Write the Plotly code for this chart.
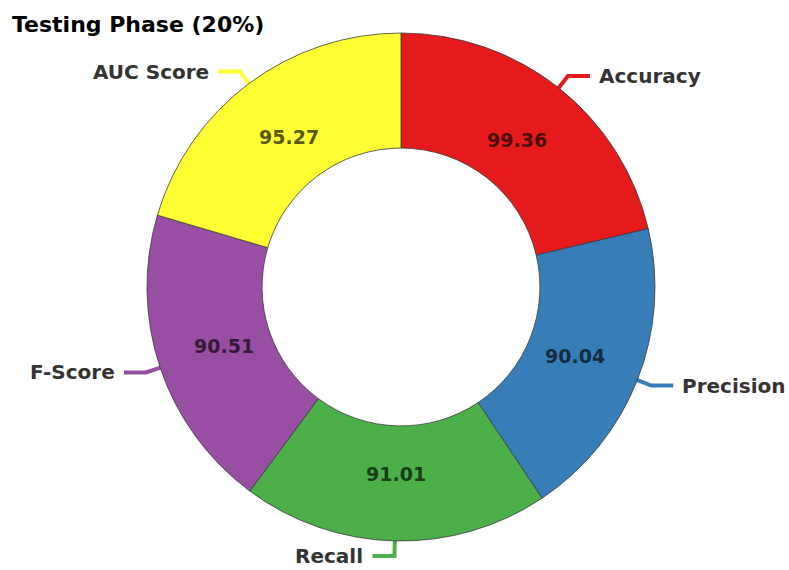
import math
import plotly.graph_objects as go

# Testing-phase metrics
metrics = ["Accuracy", "Precision", "Recall", "F-Score", "AUC Score"]
scores = [99.36, 90.04, 91.01, 90.51, 95.27]
colors = ["#E41A1C", "#377EB8", "#4DAF4A", "#984EA3", "#FFFF33"]
title_text = "Testing Phase (20%)"

W, H = 789, 570
FONT = "DejaVu Sans, Verdana, sans-serif"

# Donut geometry in pixels
cx, cy = 401, 287
r_out = 254
hole = 0.547
r_text = 187
len1, len2, gap = 15, 22, 7

fig = go.Figure()

fig.add_trace(go.Pie(
    labels=metrics,
    values=scores,
    sort=False,
    direction="clockwise",
    rotation=0,
    hole=hole,
    marker=dict(colors=colors, line=dict(color="#3a3a3a", width=0.8)),
    textinfo="none",
    hoverinfo="label+value",
    showlegend=False,
    domain=dict(
        x=[(cx - r_out) / W, (cx + r_out) / W],
        y=[(H - cy - r_out) / H, (H - cy + r_out) / H],
    ),
))

total = sum(scores)
cum = 0.0
annotations = []
for name, val, col in zip(metrics, scores, colors):
    mid = math.radians((cum + val / 2) / total * 360.0)
    cum += val
    sx, sy = math.sin(mid), -math.cos(mid)

    # value inside the ring
    annotations.append(dict(
        x=cx + r_text * sx, y=cy + r_text * sy, xref="x", yref="y",
        text=f"{val:.2f}", showarrow=False,
        xanchor="center", yanchor="middle",
        font=dict(family=FONT, size=19, color="rgba(0,0,0,0.68)", weight="bold"),
    ))

    # leader line: radial segment then horizontal segment
    x0, y0 = cx + (r_out - 2) * sx, cy + (r_out - 2) * sy
    x1, y1 = cx + (r_out + len1) * sx, cy + (r_out + len1) * sy
    side = 1 if sx >= 0 else -1
    x2 = x1 + side * len2
    fig.add_trace(go.Scatter(
        x=[x0, x1, x2], y=[y0, y1, y1], mode="lines",
        line=dict(color=col, width=4),
        hoverinfo="skip", showlegend=False,
    ))
    annotations.append(dict(
        x=x2 + side * gap, y=y1, xref="x", yref="y",
        text=name, showarrow=False,
        xanchor="left" if side > 0 else "right", yanchor="middle",
        font=dict(family=FONT, size=20, color="#333333", weight="bold"),
    ))

annotations.append(dict(
    x=10, y=24, xref="x", yref="y", text=title_text, showarrow=False,
    xanchor="left", yanchor="middle",
    font=dict(family=FONT, size=22, color="#000000", weight="bold"),
))

fig.update_layout(
    width=W, height=H,
    margin=dict(l=0, r=0, t=0, b=0),
    paper_bgcolor="white", plot_bgcolor="rgba(0,0,0,0)",
    xaxis=dict(range=[0, W], visible=False, fixedrange=True, domain=[0, 1]),
    yaxis=dict(range=[H, 0], visible=False, fixedrange=True, domain=[0, 1]),
    annotations=annotations,
)

fig.write_html("out.html")
